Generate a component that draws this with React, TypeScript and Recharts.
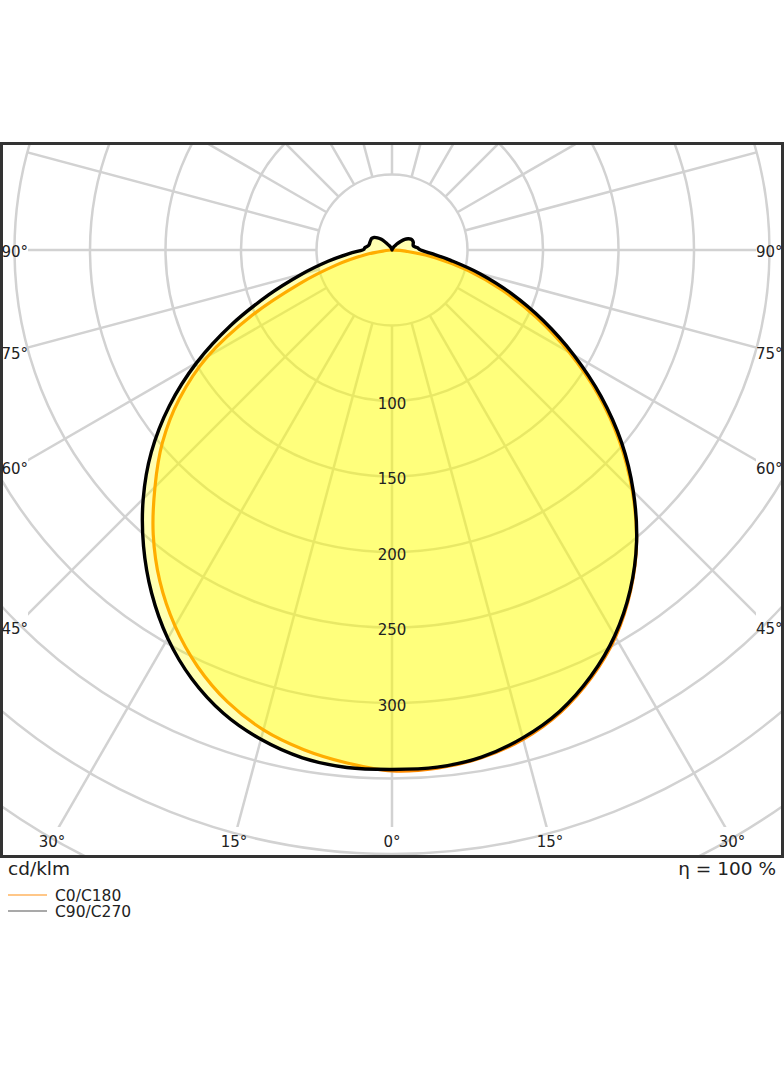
import React from 'react';
import { RadarChart, Radar, PolarGrid, PolarAngleAxis, PolarRadiusAxis } from 'recharts';

// gamma angles from nadir, one half plane (0 = straight down)
const GAMMA = [
  0, 5, 10, 15, 20, 25, 30, 35, 40, 45, 50, 55, 60, 65, 70, 75, 80, 85, 90,
  95, 100, 105, 110, 115, 120, 125, 130, 135, 140, 145, 150, 155, 160, 165, 170, 175, 180,
];

// cd/klm
const C0 = [
  345, 344.5, 341.5, 335.5, 326, 312.5, 296, 275.5, 252, 225, 196.5, 166.5, 135.5, 105.5, 77.5, 52, 29, 9, 0,
  0, 0, 0, 0, 0, 0, 0, 0, 0, 0, 0, 0, 0, 0, 0, 0, 0, 0,
];
const C180 = [
  343, 341, 336, 329, 318.5, 304.5, 287.5, 268, 246, 222, 198.5, 172, 141, 102, 65, 38, 18, 4, 0,
  0, 0, 0, 0, 0, 0, 0, 0, 0, 0, 0, 0, 0, 0, 0, 0, 0, 0,
];
const C90 = [
  344, 343.8, 341, 334.5, 325, 311.5, 295, 275, 252, 226, 198.5, 169, 139, 110.5, 84, 60, 39.5, 26, 19,
  17, 14.5, 14.5, 15, 15, 14.5, 13, 11, 8, 5.5, 3.5, 2.5, 1.5, 1, 0.6, 0.4, 0.2, 0,
];
const C270 = [
  344, 344, 341.5, 335.5, 326.5, 313.5, 297, 277.5, 256, 233, 208, 180, 149.5, 117.5, 87, 62, 43, 29, 19.5,
  18, 16, 15.5, 15.5, 15.5, 15.5, 14.5, 12.5, 10, 6.5, 4, 3, 2, 1.2, 0.7, 0.4, 0.2, 0,
];

const RINGS = [50, 100, 150, 200, 250, 300, 350, 400, 450, 500];
const RING_LABELS = [100, 150, 200, 250, 300];
const SPOKES = [0, 15, 30, 45, 60, 75, 90, 105, 120, 135, 150, 165, 180, 195, 210, 225, 240, 255, 270, 285, 300, 315, 330, 345];
const SIDE_LABELS = ['90°', '75°', '60°', '45°'];
const SIDE_LABEL_Y = [257, 359, 474, 634];
const BOTTOM_LABELS = ['30°', '15°', '0°', '15°', '30°'];
const BOTTOM_LABEL_X = [52, 234, 392, 550, 732];
const LEGEND = ['C0/C180', 'C90/C270'];

const FONT = '"DejaVu Sans", Verdana, sans-serif';
const PX_PER_UNIT = 1.51;
const MAX_R = 500;
const OUTER = MAX_R * PX_PER_UNIT;
const CX = 392;
const CY = 250;
const TOP = 142;
const W = 784;
const H = 714;
const INSET = 28;
const GRID = '#d2d2d2';

// full turn: 0..180 is the right half (C0 / C90), 185..355 the left half (C180 / C270)
const rows = [
  ...GAMMA.map((g, i) => ({ angle: g, c0c180: C0[i], c90c270: C90[i] })),
  ...GAMMA.slice(1, -1)
    .map((g, i) => ({ angle: 360 - g, c0c180: C180[i + 1], c90c270: C270[i + 1] }))
    .reverse(),
];

// closed Catmull-Rom through the radar points so the outline is smooth
function smoothClosed(pts: { x: number; y: number }[]) {
  const n = pts.length;
  if (!n) return '';
  const p = (i: number) => pts[(i + n) % n];
  let d = `M${p(0).x},${p(0).y}`;
  for (let i = 0; i < n; i++) {
    const p0 = p(i - 1), p1 = p(i), p2 = p(i + 1), p3 = p(i + 2);
    const c1x = p1.x + (p2.x - p0.x) / 6, c1y = p1.y + (p2.y - p0.y) / 6;
    const c2x = p2.x - (p3.x - p1.x) / 6, c2y = p2.y - (p3.y - p1.y) / 6;
    d += `C${c1x},${c1y} ${c2x},${c2y} ${p2.x},${p2.y}`;
  }
  return d + 'Z';
}

const SmoothShape = (props: any) => (
  <path
    d={smoothClosed(props.points || [])}
    stroke={props.stroke}
    strokeWidth={props.strokeWidth}
    fill={props.fill}
    fillOpacity={props.fillOpacity}
    strokeLinejoin="round"
  />
);

const RingTick = (props: any) => {
  const { x, y, payload } = props;
  if (!RING_LABELS.includes(payload.value)) return <g />;
  return (
    <text x={x} y={y + 7.5} textAnchor="middle" fontSize={15} fill="#222" fontFamily={FONT}>
      {payload.value}
    </text>
  );
};

const box = (left: number, top: number, width: number, height: number): React.CSSProperties => ({
  position: 'absolute',
  left,
  top,
  width,
  height,
  overflow: 'hidden',
});

export default function App() {
  const noMargin = { top: 0, right: 0, bottom: 0, left: 0 };
  return (
    <div style={{ position: 'absolute', left: 0, top: 0, width: 784, height: 1066, background: '#fff' }}>
      {/* rings */}
      <div style={box(0, TOP, W, H)}>
        <RadarChart width={W} height={H} cx={CX} cy={CY - TOP} outerRadius={OUTER} data={rows}
          startAngle={-90} endAngle={270} margin={noMargin}>
          <PolarGrid gridType="circle" radialLines={false} polarAngles={[]}
            polarRadius={RINGS.map(v => v * PX_PER_UNIT)} stroke={GRID} strokeWidth={2.5} />
        </RadarChart>
      </div>

      {/* spokes, starting at the 50 ring and stopping short of the frame */}
      <div style={box(INSET, TOP, W - 2 * INSET, 827 - TOP)}>
        <RadarChart width={W - 2 * INSET} height={827 - TOP} cx={CX - INSET} cy={CY - TOP}
          innerRadius={50 * PX_PER_UNIT} outerRadius={1200} data={rows}
          startAngle={-90} endAngle={270} margin={noMargin}>
          <PolarGrid gridType="circle" radialLines polarRadius={[]} polarAngles={SPOKES.map(a => a - 90)}
            stroke={GRID} strokeWidth={2.5} />
        </RadarChart>
      </div>

      {/* curves */}
      <div style={box(0, TOP, W, H)}>
        <RadarChart width={W} height={H} cx={CX} cy={CY - TOP} outerRadius={OUTER} data={rows}
          startAngle={-90} endAngle={270} margin={noMargin}>
          <PolarAngleAxis dataKey="angle" type="number" domain={[0, 360]} tick={false} axisLine={false} />
          <PolarRadiusAxis angle={-90} domain={[0, MAX_R]} ticks={[0, ...RINGS]} tickCount={11}
            axisLine={false} tickLine={false} tick={RingTick} />
          <Radar dataKey="c0c180" stroke="#ff8a00" strokeWidth={3.2} fill="#ffff00" fillOpacity={0.3}
            shape={SmoothShape} dot={false} isAnimationActive={false} />
          <Radar dataKey="c90c270" stroke="#000" strokeWidth={3.4} fill="#ffff00" fillOpacity={0.3}
            shape={SmoothShape} dot={false} isAnimationActive={false} />
        </RadarChart>
      </div>

      <svg width={784} height={1066} style={{ position: 'absolute', left: 0, top: 0, pointerEvents: 'none' }}>
        <rect x={1.5} y={TOP + 1.5} width={781} height={H - 1} fill="none" stroke="#333" strokeWidth={3} />
        <g fontFamily={FONT} fontSize={15} fill="#222">
          {SIDE_LABELS.map((t, i) => (
            <text key={'l' + i} x={INSET} y={SIDE_LABEL_Y[i]} textAnchor="end">{t}</text>
          ))}
          {SIDE_LABELS.map((t, i) => (
            <text key={'r' + i} x={W - INSET} y={SIDE_LABEL_Y[i]} textAnchor="start">{t}</text>
          ))}
          {BOTTOM_LABELS.map((t, i) => (
            <text key={'b' + i} x={BOTTOM_LABEL_X[i]} y={847} textAnchor="middle">{t}</text>
          ))}
        </g>
        <g fontFamily={FONT} fontSize={18.5} fill="#222">
          <text x={8} y={875}>cd/klm</text>
          <text x={776} y={875} textAnchor="end">η = 100 %</text>
        </g>
        <line x1={8} x2={47} y1={895} y2={895} stroke="#ffb560" strokeWidth={1.5} />
        <line x1={8} x2={47} y1={911} y2={911} stroke="#555" strokeWidth={1.2} />
        <g fontFamily={FONT} fontSize={15.5} fill="#222">
          <text x={55} y={901}>{LEGEND[0]}</text>
          <text x={55} y={917}>{LEGEND[1]}</text>
        </g>
      </svg>
    </div>
  );
}
